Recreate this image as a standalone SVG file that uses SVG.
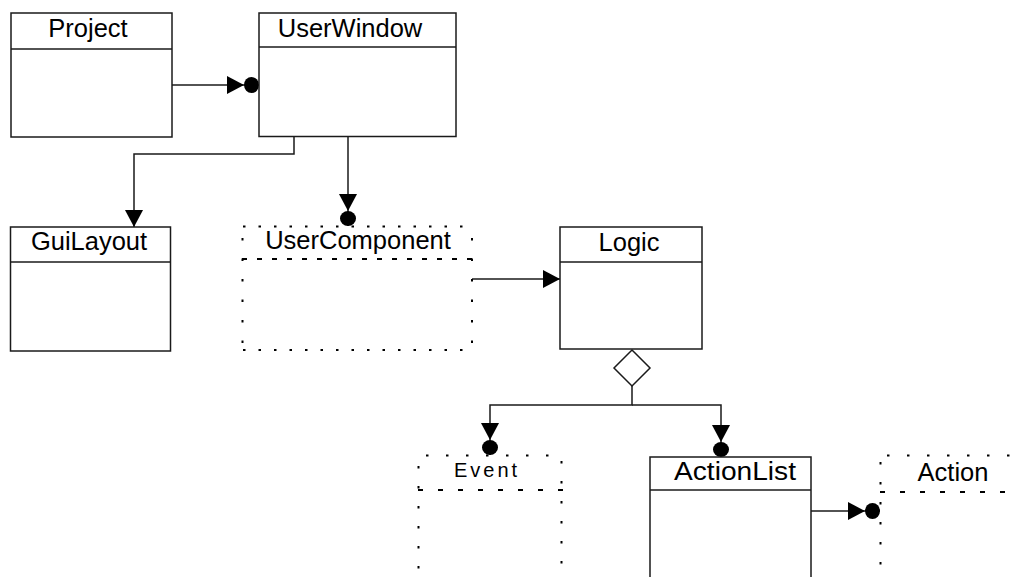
<svg xmlns="http://www.w3.org/2000/svg" width="1016" height="577" viewBox="0 0 1016 577">
  <style>
    .box { fill: #fff; stroke: #1a1a1a; stroke-width: 1.5; }
    .sep { stroke: #1a1a1a; stroke-width: 1.5; }
    .lbl { font-family: "Liberation Sans", Arial, sans-serif; font-size: 25.5px; fill: #000; text-anchor: middle; }
    .dotH { stroke: #000; stroke-width: 2; fill: none; }
    .dotV { stroke: #000; stroke-width: 2; fill: none; }
    .dash { stroke: #000; stroke-width: 2; fill: none; }
    .wire { stroke: #1a1a1a; stroke-width: 1.5; fill: none; }
  </style>
  <defs>
    <!-- plain filled arrowhead, tip at the end of the line -->
    <marker id="arrow" markerUnits="userSpaceOnUse" viewBox="-20 -10 22 20" refX="0" refY="0" markerWidth="22" markerHeight="20" orient="auto" overflow="visible">
      <polygon points="0,0 -17,-9 -17,9" fill="#000"/>
    </marker>
    <!-- arrowhead followed by a filled dot touching the target -->
    <marker id="arrowDot" markerUnits="userSpaceOnUse" viewBox="-34 -10 36 20" refX="0" refY="0" markerWidth="36" markerHeight="20" orient="auto" overflow="visible">
      <polygon points="-15,0 -32,-9 -32,9" fill="#000"/>
      <ellipse cx="-7.5" cy="0" rx="7.5" ry="8" fill="#000"/>
    </marker>
  </defs>

  <rect width="1016" height="577" fill="#fff"/>

  <!-- connectors -->
  <g id="connectors">
    <path class="wire" d="M171 85 H259" marker-end="url(#arrowDot)"/>
    <path class="wire" d="M294 137 V154 H134 V227" marker-end="url(#arrow)"/>
    <path class="wire" d="M348 137 V226" marker-end="url(#arrowDot)"/>
    <path class="wire" d="M472 279 H560" marker-end="url(#arrow)"/>
    <polygon class="wire" fill="#fff" points="632,350 650,368 632,386 614,368"/>
    <path class="wire" d="M632 386 V405 H490 V455" marker-end="url(#arrowDot)"/>
    <path class="wire" d="M632 405 H721 V457" marker-end="url(#arrowDot)"/>
    <path class="wire" d="M811 511 H880" marker-end="url(#arrowDot)"/>
  </g>

  <!-- Project -->
  <g id="project">
    <rect class="box" x="11" y="13" width="161" height="124"/>
    <line class="sep" x1="11" y1="49" x2="172" y2="49"/>
    <text class="lbl" x="88" y="37">Project</text>
  </g>

  <!-- UserWindow -->
  <g id="userwindow">
    <rect class="box" x="259" y="13" width="197" height="123.5"/>
    <line class="sep" x1="259" y1="47" x2="456" y2="47"/>
    <text class="lbl" x="350" y="37">UserWindow</text>
  </g>

  <!-- GuiLayout -->
  <g id="guilayout">
    <rect class="box" x="10.5" y="227" width="160" height="124"/>
    <line class="sep" x1="10.5" y1="262" x2="170.5" y2="262"/>
    <text class="lbl" x="89" y="250">GuiLayout</text>
  </g>

  <!-- UserComponent (dotted outline) -->
  <g id="usercomponent">
    <line class="dotH" x1="243" y1="226.5" x2="474" y2="226.5" stroke-dasharray="2.5 13"/>
    <line class="dotH" x1="243" y1="350" x2="474" y2="350" stroke-dasharray="2.5 13"/>
    <line class="dash" x1="242" y1="259" x2="474" y2="259" stroke-dasharray="5 10"/>
    <line class="dotV" x1="242.5" y1="238" x2="242.5" y2="352" stroke-dasharray="2.5 18"/>
    <line class="dotV" x1="472" y1="238" x2="472" y2="352" stroke-dasharray="2.5 18"/>
    <text class="lbl" x="358" y="249">UserComponent</text>
  </g>

  <!-- Logic -->
  <g id="logic">
    <rect class="box" x="560" y="227" width="142" height="122"/>
    <line class="sep" x1="560" y1="262" x2="702" y2="262"/>
    <text class="lbl" x="629" y="251">Logic</text>
  </g>

  <!-- Event (dotted outline) -->
  <g id="event">
    <line class="dotH" x1="426" y1="455.5" x2="562" y2="455.5" stroke-dasharray="2.5 17.5"/>
    <line class="dash" x1="418" y1="490" x2="564" y2="490" stroke-dasharray="5 15"/>
    <line class="dotV" x1="418.5" y1="466" x2="418.5" y2="580" stroke-dasharray="2.5 17.5"/>
    <line class="dotV" x1="561.5" y1="461" x2="561.5" y2="580" stroke-dasharray="2.5 17.5"/>
    <text class="lbl" x="487" y="477" style="font-size:20px;letter-spacing:3px">Event</text>
  </g>

  <!-- ActionList -->
  <g id="actionlist">
    <rect class="box" x="650" y="457" width="161" height="130"/>
    <line class="sep" x1="650" y1="490" x2="811" y2="490"/>
    <text class="lbl" x="735" y="480" textLength="122" lengthAdjust="spacingAndGlyphs" style="font-size:26.5px">ActionList</text>
  </g>

  <!-- Action (dotted outline) -->
  <g id="action">
    <line class="dotH" x1="887" y1="455.5" x2="1016" y2="455.5" stroke-dasharray="2.5 17.5"/>
    <line class="dash" x1="880" y1="492" x2="1016" y2="492" stroke-dasharray="5 15"/>
    <line class="dotV" x1="880.5" y1="462" x2="880.5" y2="580" stroke-dasharray="2.5 17.5"/>
    <text class="lbl" x="953" y="481">Action</text>
  </g>
</svg>
